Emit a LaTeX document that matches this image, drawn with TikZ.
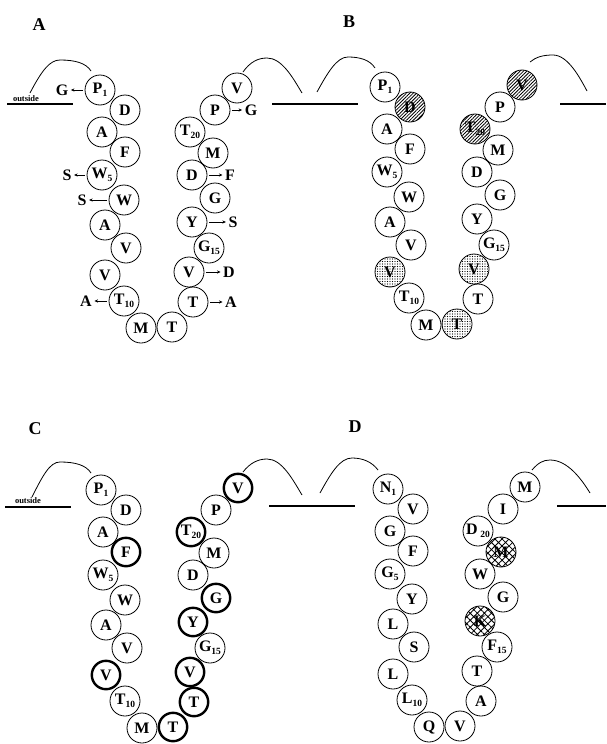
\documentclass[tikz,border=0pt]{standalone}
\usepackage{fontspec}
\setmainfont{Liberation Serif}
\usetikzlibrary{arrows.meta,patterns.meta}

% small lowered residue number
\newcommand\sbs[1]{\raisebox{-0.35ex}{\fontsize{9.5}{9.5}\selectfont #1}}

% the 22 residue slots of one hairpin, shifted by (#2,#3), named #1-1 ... #1-22
\newcommand\slots[3]{%
  \begin{scope}[shift={(#2,#3)}]
    \foreach \i/\x/\y in {1/100/90, 2/125/110, 3/102/132, 4/125/152, 5/102/175,
        6/124/200, 7/105/225, 8/126/248, 9/105/275, 10/124/301, 11/141/328,
        12/172/327, 13/193/302, 14/189/272, 15/209/248, 16/192/222, 17/215/198,
        18/192/175, 19/213/153, 20/190/132, 21/215/110, 22/237/88}
      {\coordinate (#1-\i) at (\x,\y);}
  \end{scope}}

\tikzset{
  res/.style={circle, draw, line width=0.8pt, fill=white, minimum size=30pt,
    inner sep=0pt, font=\fontsize{16}{16}\selectfont\bfseries},
  ringbold/.style={res, line width=2.4pt, minimum size=28.4pt},
  lined/.style={res, postaction={pattern={Lines[angle=45,distance=2.4pt,line width=0.8pt]}}},
  dotty/.style={res, postaction={pattern={Dots[distance=2.5pt,radius=0.55pt]}}},
  meshy/.style={res, postaction={pattern={Hatch[angle=45,distance=5pt,line width=0.85pt]}}},
  mutlab/.style={inner sep=1pt, font=\fontsize{16}{16}\selectfont\bfseries},
  mut/.style={-{Stealth[length=3.5pt,width=3.2pt]}, line width=0.8pt,
    shorten <=1.5pt, shorten >=1.5pt},
  membrane/.style={line width=1.2pt},
  loopline/.style={line width=0.8pt},
  panel/.style={font=\fontsize{18}{18}\selectfont\bfseries},
  sidelab/.style={font=\fontsize{8.5}{8.5}\selectfont\bfseries, inner sep=0pt, anchor=base},
}

\begin{document}
\begin{tikzpicture}[x=1pt,y=-1pt]
\useasboundingbox (0,0) rectangle (606,744);

\slots{a}{0}{0}
\slots{b}{285}{-3}
\slots{c}{1}{400}
\slots{d}{288}{399}

% panel letters
\node[panel] (la) at (39,25) {A};
\node[panel] (lb) at (349,22) {B};
\node[panel] (lc) at (35,429) {C};
\node[panel] (ld) at (355,427) {D};

% membrane surfaces
\draw[membrane] (7,104) -- (73,104);
\draw[membrane] (272,104) -- (358,104);
\draw[membrane] (560,104) -- (606,104);
\draw[membrane] (5,507) -- (71,507);
\draw[membrane] (269,506) -- (355,506);
\draw[membrane] (557,506) -- (606,506);
\node[sidelab] (oa) at (26,101) {outside};
\node[sidelab] (oc) at (28,503) {outside};

% extracellular loops
\draw[loopline] (30,93) .. controls (42,70) and (50,60) .. (60,60) .. controls (75,60) and (86,63) .. (91,71);
\draw[loopline] (243,72) .. controls (250,62) and (258,58) .. (267,58) .. controls (282,58) and (293,78) .. (302,93);
\draw[loopline] (317,92) .. controls (328,72) and (337,57) .. (348,57) .. controls (360,57) and (370,60) .. (375,68);
\draw[loopline] (530,62) .. controls (536,57) and (543,55) .. (553,55) .. controls (568,55) and (580,78) .. (587,91);
\draw[loopline] (32,497) .. controls (43,475) and (50,462) .. (60,462) .. controls (75,462) and (86,465) .. (91,473);
\draw[loopline] (243,472) .. controls (250,463) and (258,459) .. (267,459) .. controls (282,459) and (293,480) .. (302,495);
\draw[loopline] (320,493) .. controls (331,473) and (340,458) .. (352,458) .. controls (363,458) and (372,462) .. (378,470);
\draw[loopline] (532,470) .. controls (538,463) and (543,460) .. (550,460) .. controls (568,460) and (582,480) .. (590,493);

% panel A: substitutions
\foreach \i/\t in {1/{P\sbs{1}}, 2/D, 3/A, 4/F, 5/{W\sbs{5}}, 6/W, 7/A, 8/V, 9/V,
    10/{T\sbs{10}}, 11/M, 12/T, 13/T, 14/V, 15/{G\sbs{15}}, 16/Y, 17/G, 18/D, 19/M,
    20/{T\sbs{20}}, 21/P, 22/V}
  {\node[res] (A\i) at (a-\i) {\t};}

\foreach \i/\dx/\t in {1/-38/G, 5/-35/S, 6/-42/S, 10/-38/A,
    21/36/G, 18/38/F, 16/41/S, 14/40/D, 13/38/A}
  {\node[mutlab] (mA\i) at ([xshift=\dx pt]A\i.center) {\t};
   \draw[mut] (A\i) -- (mA\i);}

% panel B
\foreach \i/\s/\t in {1/res/{P\sbs{1}}, 2/lined/D, 3/res/A, 4/res/F, 5/res/{W\sbs{5}},
    6/res/W, 7/res/A, 8/res/V, 9/dotty/V, 10/res/{T\sbs{10}}, 11/res/M, 12/dotty/T,
    13/res/T, 14/dotty/V, 15/res/{G\sbs{15}}, 16/res/Y, 17/res/G, 18/res/D, 19/res/M,
    20/lined/{T\sbs{20}}, 21/res/P, 22/lined/V}
  {\node[\s] (B\i) at (b-\i) {\t};}

% panel C
\foreach \i/\s/\t in {1/res/{P\sbs{1}}, 2/res/D, 3/res/A, 4/ringbold/F, 5/res/{W\sbs{5}},
    6/res/W, 7/res/A, 8/res/V, 9/ringbold/V, 10/res/{T\sbs{10}}, 11/res/M, 12/ringbold/T,
    13/ringbold/T, 14/ringbold/V, 15/res/{G\sbs{15}}, 16/ringbold/Y, 17/ringbold/G,
    18/res/D, 19/res/M, 20/ringbold/{T\sbs{20}}, 21/res/P, 22/ringbold/V}
  {\node[\s] (C\i) at (c-\i) {\t};}

% panel D
\foreach \i/\s/\t in {1/res/{N\sbs{1}}, 2/res/V, 3/res/G, 4/res/F, 5/res/{G\sbs{5}},
    6/res/Y, 7/res/L, 8/res/S, 9/res/L, 10/res/{L\sbs{10}}, 11/res/Q, 12/res/V,
    13/res/A, 14/res/T, 15/res/{F\sbs{15}}, 16/meshy/K, 17/res/G, 18/res/W, 19/meshy/M,
    20/res/{D\,\sbs{20}}, 21/res/I, 22/res/M}
  {\node[\s] (D\i) at (d-\i) {\t};}

\end{tikzpicture}
\end{document}
